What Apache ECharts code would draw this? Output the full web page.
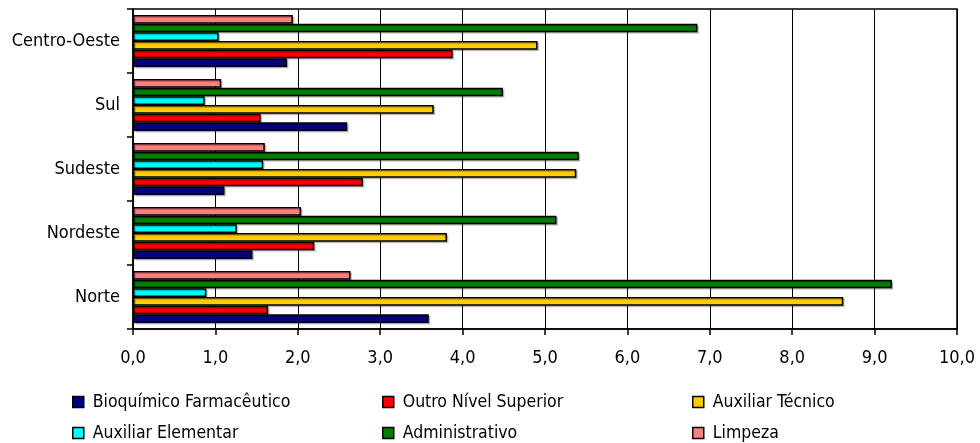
<!DOCTYPE html>
<html>
<head>
<meta charset="utf-8">
<script src="https://cdn.jsdelivr.net/npm/echarts@6/dist/echarts.min.js"></script>
<style>html,body{margin:0;padding:0;background:#fff;}#c{width:980px;height:443px;}</style>
</head>
<body>
<div id="c"></div>
<script>
const categories = ['Norte', 'Nordeste', 'Sudeste', 'Sul', 'Centro-Oeste'];
const seriesNames = ['Bioquímico Farmacêutico', 'Outro Nível Superior', 'Auxiliar Técnico', 'Auxiliar Elementar', 'Administrativo', 'Limpeza'];
const bioquimico = [3.59, 1.45, 1.11, 2.60, 1.87];
const outroSuperior = [1.64, 2.20, 2.79, 1.55, 3.88];
const auxTecnico = [8.62, 3.81, 5.38, 3.65, 4.91];
const auxElementar = [0.89, 1.26, 1.58, 0.87, 1.04];
const administrativo = [9.21, 5.14, 5.41, 4.49, 6.85];
const limpeza = [2.64, 2.04, 1.60, 1.07, 1.94];
const xTicks = [0, 10, 1];

const values = [bioquimico, outroSuperior, auxTecnico, auxElementar, administrativo, limpeza];
const colors = ['#000080', '#FF0000', '#FFCC00', '#00FFFF', '#008000', '#FF8080'];
const FONT = '"DejaVu Sans Condensed", "Liberation Sans Narrow", sans-serif';

const legendPos = [[72, 393], [382, 393], [692, 393], [72, 424], [382, 424], [692, 424]];

const order = [5, 4, 3, 2, 1, 0];

const chart = echarts.init(document.getElementById('c'), null, {renderer: 'canvas'});
chart.setOption({
  animation: false,
  backgroundColor: '#fff',
  grid: {left: 133, right: 23, top: 9, bottom: 114, show: true, borderColor: '#000', borderWidth: 1.5, containLabel: false},
  legend: seriesNames.map((n, i) => ({
    data: [{name: n, icon: 'rect'}], left: legendPos[i][0], top: legendPos[i][1],
    itemWidth: 11, itemHeight: 11, padding: 0,
    textStyle: {fontFamily: FONT, fontSize: 17.5, color: '#000', padding: [0, 0, 0, 4]},
    itemStyle: {borderColor: '#000', borderWidth: 1.5}
  })),
  xAxis: {
    type: 'value', min: xTicks[0], max: xTicks[1], interval: xTicks[2],
    axisLine: {show: true, lineStyle: {color: '#000', width: 1.5}},
    axisTick: {show: true, length: 6, lineStyle: {color: '#000', width: 1.5}},
    axisLabel: {fontFamily: FONT, fontSize: 18, color: '#000', margin: 20,
      formatter: v => v.toFixed(1).replace('.', ',')},
    splitLine: {show: true, lineStyle: {color: '#000', width: 1}}
  },
  yAxis: {
    type: 'category', data: categories,
    axisLine: {show: true, lineStyle: {color: '#000', width: 1.5}},
    axisTick: {show: true, length: 6, inside: false, lineStyle: {color: '#000', width: 1.5}},
    axisLabel: {fontFamily: FONT, fontSize: 18, color: '#000', margin: 13},
    splitLine: {show: false}
  },
  series: order.map(i => ({
    name: seriesNames[i], type: 'bar', data: values[i],
    barGap: '0%', barCategoryGap: '19%',
    itemStyle: {color: colors[i], borderColor: '#000', borderWidth: 1.5,
      shadowColor: 'rgba(0,0,0,0.2)', shadowOffsetX: 1.5, shadowOffsetY: 1.5}
  }))
});
</script>
</body>
</html>
